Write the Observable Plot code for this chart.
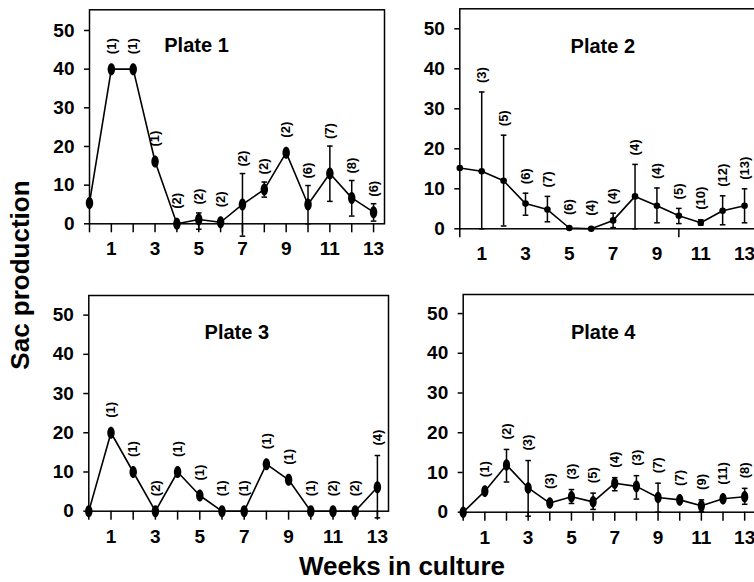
<!DOCTYPE html>
<html><head><meta charset="utf-8">
<script src="https://cdn.jsdelivr.net/npm/d3@7"></script>
<script src="https://cdn.jsdelivr.net/npm/@observablehq/plot@0.6"></script>
<style>
html,body{margin:0;padding:0;overflow:hidden;background:#fff;}
#chart{position:relative;width:754px;height:582px;overflow:hidden;font-family:"Liberation Sans",Arial,sans-serif;font-weight:bold;color:#000;}
.panel{position:absolute;}
.panel svg{background:transparent !important;max-width:none !important;}
.axtitle{position:absolute;font-size:26px;font-weight:bold;white-space:nowrap;transform:translate(-50%,-50%);}
</style></head><body><div id="chart"></div>
<script>
// ---- data ----
const weeks = [0,1,2,3,4,5,6,7,8,9,10,11,12,13];
const yTicks = [0,10,20,30,40,50];
const xLabelWeeks = [1,3,5,7,9,11,13];

const plateTitles = ["Plate 1","Plate 2","Plate 3","Plate 4"];

const plate1Mean = [5.4,40,40,16.1,0,1.1,0.4,5.0,8.9,18.4,5.0,13.0,6.7,3.0];
const plate1Lo   = [null,null,null,null,null,-1.4,null,-3.2,6.9,null,0,5.8,2.0,0.7];
const plate1Hi   = [null,null,null,null,null,2.8,null,13.0,10.8,null,9.9,20.1,11.2,5.2];
const plate1N    = ["","(1)","(1)","(1)","(2)","(2)","(2)","(2)","(2)","(2)","(6)","(7)","(8)","(6)"];

const plate2Mean = [15.2,14.4,12.0,6.3,4.8,0.2,0,2.1,8.1,5.75,3.25,1.5,4.5,5.75];
const plate2Lo   = [null,0,0.7,3.4,1.75,null,null,0.3,0,1.5,1.3,0.9,1.0,1.5];
const plate2Hi   = [null,34.2,23.4,8.9,8.1,null,null,3.9,16.1,10.2,5.1,2.25,8.25,10.0];
const plate2N    = ["","(3)","(5)","(6)","(7)","(6)","(4)","(4)","(4)","(4)","(5)","(10)","(12)","(13)"];

const plate3Mean = [0,20,10,0,10,4,0,0,12,8,0,0,0,6.1];
const plate3Lo   = [null,null,null,null,null,null,null,null,null,null,null,null,null,-1.7];
const plate3Hi   = [null,null,null,null,null,null,null,null,null,null,null,null,null,14.2];
const plate3N    = ["","(1)","(1)","(2)","(1)","(1)","(1)","(1)","(1)","(1)","(1)","(2)","(2)","(4)"];

const plate4Mean = [0,5.3,11.9,6.1,2.3,3.9,2.6,7.3,6.5,3.7,3.1,1.6,3.4,3.9];
const plate4Lo   = [null,null,7.6,-1.0,null,2.2,0.7,5.4,3.3,0,null,0.2,null,2.0];
const plate4Hi   = [null,null,15.8,13.0,null,5.7,4.8,8.7,9.2,7.3,null,3.1,null,6.0];
const plate4N    = ["","(1)","(2)","(3)","(3)","(3)","(5)","(4)","(3)","(7)","(7)","(9)","(11)","(8)"];

const xTicks1 = weeks;          // plates 1,3,4: tick at every week
const xTicks2 = [0,10];         // plate 2 shows only these tick marks

// ---- symbols ----
const ellipseSym = {draw(ctx, size){
  const r = Math.sqrt(size/Math.PI), rx = r*0.62, ry = r, k = 0.5523;
  ctx.moveTo(rx,0);
  ctx.bezierCurveTo(rx, ry*k, rx*k, ry, 0, ry);
  ctx.bezierCurveTo(-rx*k, ry, -rx, ry*k, -rx, 0);
  ctx.bezierCurveTo(-rx, -ry*k, -rx*k, -ry, 0, -ry);
  ctx.bezierCurveTo(rx*k, -ry, rx, -ry*k, rx, 0);
  ctx.closePath();
}};
const capSym = {draw(ctx, size){
  const r = Math.sqrt(size/Math.PI);
  ctx.moveTo(-r,0); ctx.lineTo(r,0);
}};

const chart = document.getElementById("chart");

function panel(cfg){
  const data = weeks.map((w,i)=>({week:w, mean:cfg.mean[i], lo:cfg.lo[i], hi:cfg.hi[i], n:cfg.n[i]}));
  const bars = data.filter(d=>d.lo!=null && d.hi!=null);
  const ppu = (cfg.zero - cfg.top)/cfg.yMax;
  const useBar = d => d.hi!=null && (d.hi - d.mean)*ppu > (cfg.gapPt - cfg.gapBar);
  const labBar = data.filter(d=>d.n && useBar(d));
  const labPt = data.filter(d=>d.n && !useBar(d));
  const W = cfg.boxW, H = cfg.boxH;
  const plot = Plot.plot({
    width: W, height: H,
    marginLeft: cfg.left - cfg.boxX,
    marginRight: cfg.boxX + W - cfg.right,
    marginTop: cfg.top - cfg.boxY,
    marginBottom: cfg.boxY + H - cfg.zero,
    style: {fontFamily: '"Liberation Sans", Arial, sans-serif', fontWeight: "bold", fontSize: "19px", background: "transparent", color: "black", overflow: "visible"},
    x: {domain: [0, 13.5], axis: null},
    y: {domain: [0, cfg.yMax], axis: null},
    marks: [
      Plot.frame({stroke: "black", strokeWidth: 1.5}),
      Plot.axisY({ticks: yTicks, tickSize: 5, tickPadding: 10, strokeWidth: 1.5, label: null, fontSize: 19}),
      Plot.axisX({ticks: cfg.xTicks, tickSize: 9, tickFormat: () => "", strokeWidth: 1.5, label: null}),
      Plot.axisX({ticks: xLabelWeeks, tickSize: 0, tickPadding: 18, label: null, fontSize: 19}),
      Plot.ruleX(bars, {x: "week", y1: "lo", y2: "hi", stroke: "black", strokeWidth: 1.5}),
      Plot.dot(bars, {x: "week", y: "hi", symbol: capSym, r: 2.8, stroke: "black", strokeWidth: 1.5, fill: "none"}),
      Plot.dot(bars, {x: "week", y: "lo", symbol: capSym, r: 2.8, stroke: "black", strokeWidth: 1.5, fill: "none"}),
      Plot.line(data, {x: "week", y: "mean", stroke: "black", strokeWidth: 1.6}),
      Plot.dot(data, {x: "week", y: "mean", symbol: cfg.symbol, r: cfg.r, fill: "black", stroke: "none"}),
      Plot.text(labBar, {x: "week", y: "hi", text: "n", rotate: -90, textAnchor: "start", dy: -cfg.gapBar, fontSize: 13, fontWeight: "bold"}),
      Plot.text(labPt, {x: "week", y: "mean", text: "n", rotate: -90, textAnchor: "start", dy: -cfg.gapPt, fontSize: 13, fontWeight: "bold"}),
      Plot.text([cfg.title], {frameAnchor: "top-left", dx: cfg.titleDx, dy: cfg.titleDy, textAnchor: "middle", lineAnchor: "middle", fontSize: 20, fontWeight: "bold"})
    ]
  });
  const div = document.createElement("div");
  div.className = "panel";
  div.style.left = cfg.boxX + "px";
  div.style.top = cfg.boxY + "px";
  div.style.width = W + "px";
  div.style.height = H + "px";
  div.appendChild(plot);
  chart.appendChild(div);
}

panel({title: plateTitles[0], mean: plate1Mean, lo: plate1Lo, hi: plate1Hi, n: plate1N, xTicks: xTicks1,
  boxX: 0, boxY: 0, boxW: 400, boxH: 272, left: 89, right: 384, top: 9.3, zero: 223.3, yMax: 55.35,
  symbol: ellipseSym, r: 6, gapBar: 7, gapPt: 15, titleDx: 107, titleDy: 36});
panel({title: plateTitles[1], mean: plate2Mean, lo: plate2Lo, hi: plate2Hi, n: plate2N, xTicks: xTicks2,
  boxX: 400, boxY: 0, boxW: 356, boxH: 272, left: 459.3, right: 755, top: 8.3, zero: 228.3, yMax: 55,
  symbol: "circle", r: 3.3, gapBar: 9, gapPt: 13, titleDx: 143, titleDy: 37.4});
panel({title: plateTitles[2], mean: plate3Mean, lo: plate3Lo, hi: plate3Hi, n: plate3N, xTicks: xTicks1,
  boxX: 0, boxY: 280, boxW: 400, boxH: 272, left: 88.3, right: 388, top: 295, zero: 510.7, yMax: 55,
  symbol: ellipseSym, r: 6, gapBar: 10, gapPt: 15, titleDx: 148, titleDy: 36.7});
panel({title: plateTitles[3], mean: plate4Mean, lo: plate4Lo, hi: plate4Hi, n: plate4N, xTicks: xTicks1,
  boxX: 400, boxY: 280, boxW: 356, boxH: 272, left: 462.7, right: 755, top: 294, zero: 511.7, yMax: 54.8,
  symbol: ellipseSym, r: 5.8, gapBar: 10, gapPt: 14, titleDx: 140, titleDy: 37.7});

const yt = document.createElement("div");
yt.className = "axtitle";
yt.textContent = "Sac production";
yt.style.left = "20px"; yt.style.top = "275px";
yt.style.transform = "translate(-50%,-50%) rotate(-90deg)";
chart.appendChild(yt);

const xt = document.createElement("div");
xt.className = "axtitle";
xt.textContent = "Weeks in culture";
xt.style.left = "402px"; xt.style.top = "566px";
chart.appendChild(xt);
</script></body></html>
